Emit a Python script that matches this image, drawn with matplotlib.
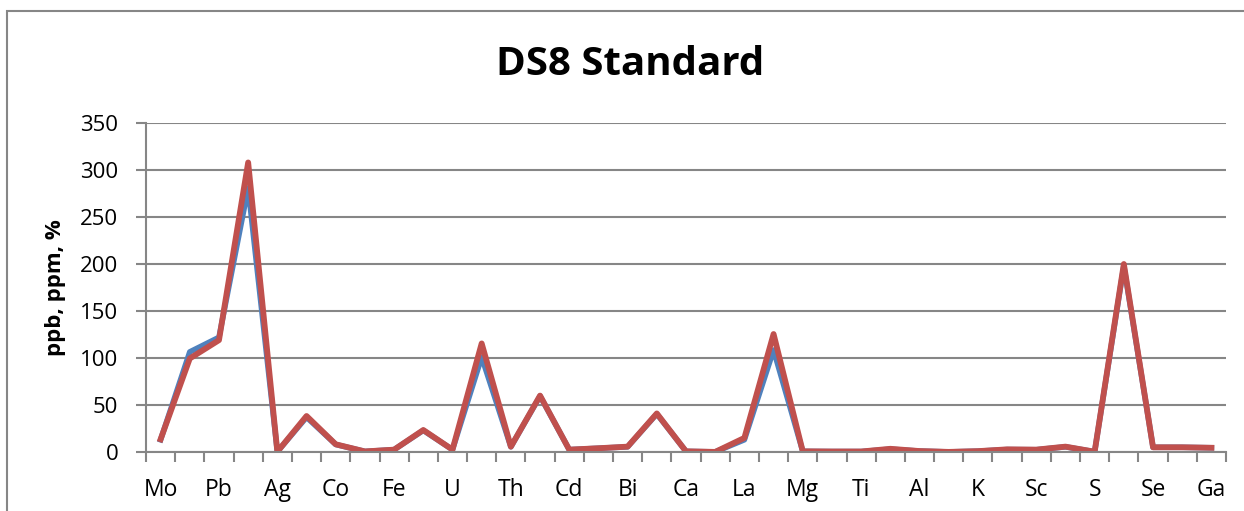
import matplotlib.pyplot as plt
import numpy as np
from matplotlib.patches import Rectangle

# elements du standard DS8 (une etiquette sur deux affichee)
elements = ['Mo', 'Cu', 'Pb', 'Zn', 'Ag', 'Ni', 'Co', 'Mn', 'Fe', 'As',
            'U', 'Au', 'Th', 'Sr', 'Cd', 'Sb', 'Bi', 'V', 'Ca', 'P',
            'La', 'Cr', 'Mg', 'Ba', 'Ti', 'B', 'Al', 'Na', 'K', 'W',
            'Sc', 'Tl', 'S', 'Hg', 'Se', 'Te', 'Ga']

valeurs_bleu = [13, 106.5, 122, 281, 0.3, 37, 8, 0.6, 2.5, 23,
                2.5, 101, 5.5, 59.5, 2.5, 4, 5.5, 40.5, 0.7, 0.1,
                13, 108.5, 0.7, 0.5, 0.5, 3, 1, 0.1, 0.9, 2.6,
                2.4, 5.5, 0.3, 198, 5, 5, 4.5]

valeurs_rouge = [13.5, 99.5, 119, 308, 0.3, 38.3, 8.2, 0.6, 2.5, 23.4,
                 2.5, 115.5, 5.7, 60, 2.5, 4, 5.7, 41, 0.7, 0.1,
                 15, 125.5, 0.7, 0.5, 0.5, 3.4, 1, 0.1, 0.9, 2.8,
                 2.5, 5.7, 0.3, 200, 5, 5, 4.5]

police = 'Open Sans'
gris = '#868686'

fig = plt.figure(figsize=(12.44, 5.11), dpi=100)
ax = fig.add_axes([146 / 1244, 1 - 452 / 511, 1080 / 1244, 329 / 511])

# cadre du graphique (type Excel)
fig.patches.append(Rectangle((7 / 1244, -0.1), 1.2, 1.1 - 11 / 511, transform=fig.transFigure,
                             fill=False, edgecolor=gris, linewidth=1.5))

x = np.arange(len(elements))
ax.plot(x, valeurs_bleu, color='#4F81BD', linewidth=4.0, solid_joinstyle='round')
ax.plot(x, valeurs_rouge, color='#C0504D', linewidth=4.2, solid_joinstyle='round')

ax.set_xlim(-0.5, len(elements) - 0.5)
ax.set_ylim(0, 350)
ax.set_yticks(np.arange(0, 351, 50))
ax.yaxis.grid(True, color=gris, linewidth=1.5)
ax.set_axisbelow(True)

# graduations entre categories, etiquettes au centre
ax.set_xticks(np.arange(-0.5, len(elements), 1.0))
ax.set_xticklabels([])
ax.set_xticks(x[::2], minor=True)
ax.set_xticklabels(elements[::2], minor=True, fontfamily=police, fontsize=16.5)
ax.tick_params(axis='x', which='major', length=7, width=1.5, color=gris, direction='out')
ax.tick_params(axis='x', which='minor', length=0, pad=19)
ax.tick_params(axis='y', length=7, width=1.5, color=gris, pad=13)
for lab in ax.get_yticklabels():
    lab.set_fontfamily(police)
    lab.set_fontsize(16)

for s in ['top', 'right']:
    ax.spines[s].set_visible(False)
for s in ['left', 'bottom']:
    ax.spines[s].set_color(gris)
    ax.spines[s].set_linewidth(1.5)

ax.set_ylabel('ppb, ppm, %', fontfamily=police, fontweight='bold', fontsize=16, labelpad=10)
fig.text(630 / 1244, 1 - 75 / 511, 'DS8 Standard', ha='center', va='baseline',
         fontfamily=police, fontweight='bold', fontsize=29)

fig.savefig('out.png', dpi=100)
